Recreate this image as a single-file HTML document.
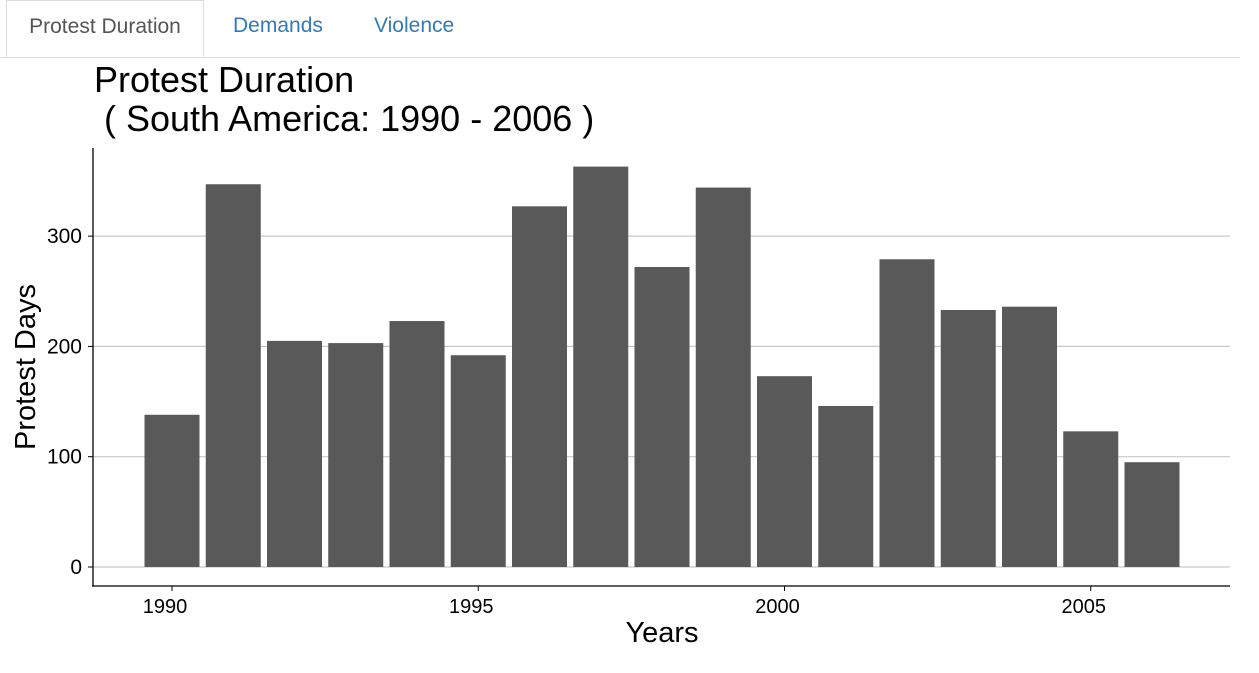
<!DOCTYPE html>
<html><head><meta charset="utf-8"><style>
body{margin:0;background:#fff;font-family:"Liberation Sans",sans-serif;width:1259px;height:673px;overflow:hidden;position:relative}
.tabs{position:absolute;left:0;top:0;width:1240px;height:57px;border-bottom:1px solid #ddd}
.tab{position:absolute;top:0;height:52px;line-height:52px;font-size:21px;color:#337ab7}
.tab.active{left:6px;width:198px;height:57px;border:1px solid #ddd;border-bottom:1px solid #fff;color:#555;text-align:center;box-sizing:border-box;background:#fff}
</style></head><body>
<div class="tabs">
<div class="tab active">Protest Duration</div>
<div class="tab" style="left:233px">Demands</div>
<div class="tab" style="left:374px">Violence</div>
</div>
<svg id="chart" width="1259" height="673" style="position:absolute;left:0;top:0">
<text x="94" y="92" font-size="36" fill="#000">Protest Duration</text>
<text x="104" y="131" font-size="36" fill="#000">( South America: 1990 - 2006 )</text>
<g id="grid"></g><g id="bars"></g><g id="axes"></g>
<text x="662" y="642" font-size="29" text-anchor="middle">Years</text>
<text transform="translate(35,367) rotate(-90)" font-size="29" text-anchor="middle">Protest Days</text>
</svg>
<script>
const years=[1990,1991,1992,1993,1994,1995,1996,1997,1998,1999,2000,2001,2002,2003,2004,2005,2006];
const days=[138,347,205,203,223,192,327,363,272,344,173,146,279,233,236,123,95];
const yTicks=[0,100,200,300];
const xTicks=[1990,1995,2000,2005];
const ns="http://www.w3.org/2000/svg";
const X=v=>172+(v-1990)*61.25, Y=v=>567-v*1.103;
const grid=document.getElementById('grid'),bars=document.getElementById('bars'),axes=document.getElementById('axes');
function mk(tag,attrs,parent){const e=document.createElementNS(ns,tag);for(const k in attrs)e.setAttribute(k,attrs[k]);parent.appendChild(e);return e;}
yTicks.forEach(t=>{
 const l=mk('line',{x1:93,x2:1230,y1:Y(t),y2:Y(t),stroke:'#c8c8c8','stroke-width':1.2},grid);
 
 
 const tx=mk('text',{x:82,y:Y(t)+7,'font-size':21,'text-anchor':'end',fill:'#000'},axes);tx.textContent=t;
 
 
 mk('line',{x1:88,x2:93,y1:Y(t),y2:Y(t),stroke:'#000'},axes);
});
years.forEach((yr,i)=>{
 const r=mk('rect',{x:X(yr)-27.5,y:Y(days[i]),width:55,height:Y(0)-Y(days[i]),fill:'#595959'},bars);
 
 
});
xTicks.forEach(t=>{
 mk('line',{x1:X(t),x2:X(t),y1:586,y2:591,stroke:'#000'},axes);
 const tx=mk('text',{x:X(t)-7,y:613,'font-size':20,'text-anchor':'middle',fill:'#000'},axes);tx.textContent=t;
 
 
});
const ya=mk('line',{x1:93,x2:93,y1:148,y2:586,stroke:'#000','stroke-width':1.3},axes);


const xa=mk('line',{x1:92,x2:1230,y1:586,y2:586,stroke:'#000','stroke-width':1.3},axes);


</script>
</body></html>
